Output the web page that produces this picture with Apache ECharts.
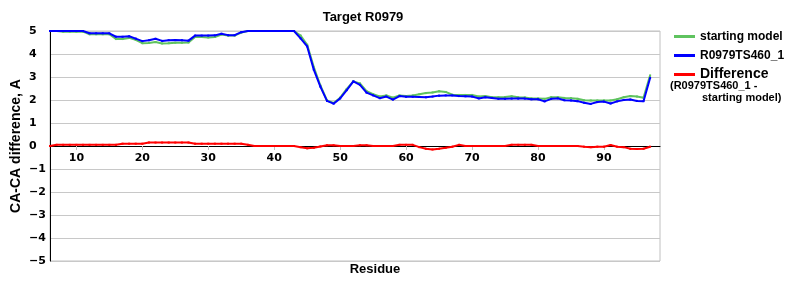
<!DOCTYPE html>
<html>
<head>
<meta charset="utf-8">
<script src="https://cdn.jsdelivr.net/npm/echarts@6/dist/echarts.min.js"></script>
<style>
html,body{margin:0;padding:0;background:#fff;}
#chart{width:800px;height:300px;}
</style>
</head>
<body>
<div id="chart"></div>
<script>
// Residue numbers 6..97
const residues = [6,7,8,9,10,11,12,13,14,15,16,17,18,19,20,21,22,23,24,25,26,27,28,29,30,31,32,33,34,35,36,37,38,39,40,41,42,43,44,45,46,47,48,49,50,51,52,53,54,55,56,57,58,59,60,61,62,63,64,65,66,67,68,69,70,71,72,73,74,75,76,77,78,79,80,81,82,83,84,85,86,87,88,89,90,91,92,93,94,95,96,97];

const startingModel = [
  5.0,5.0,4.97,4.97,4.97,4.97,4.86,4.86,4.86,4.86,
  4.65,4.65,4.7,4.62,4.47,4.48,4.52,4.46,4.47,4.49,
  4.49,4.5,4.74,4.74,4.72,4.74,4.85,4.8,4.8,4.93,
  5.0,5.0,5.0,5.0,5.0,5.0,5.0,5.0,4.8,4.4,
  3.43,2.63,1.98,1.87,2.1,2.48,2.81,2.72,2.38,2.25,
  2.15,2.2,2.1,2.2,2.17,2.2,2.25,2.3,2.33,2.38,
  2.35,2.23,2.22,2.22,2.22,2.15,2.17,2.12,2.12,2.13,
  2.16,2.12,2.11,2.07,2.07,2.05,2.12,2.12,2.09,2.08,
  2.05,1.99,1.98,1.98,1.98,1.98,2.03,2.12,2.17,2.15,
  2.1,3.07
];

const modelTS460 = [
  5.0,5.0,5.0,5.0,5.0,5.0,4.9,4.9,4.9,4.9,
  4.75,4.75,4.77,4.67,4.56,4.6,4.66,4.57,4.6,4.61,
  4.6,4.58,4.8,4.8,4.8,4.81,4.88,4.82,4.82,4.95,
  5.0,5.0,5.0,5.0,5.0,5.0,5.0,5.0,4.68,4.33,
  3.32,2.58,1.96,1.84,2.07,2.43,2.81,2.66,2.32,2.2,
  2.08,2.15,2.02,2.17,2.14,2.14,2.13,2.12,2.15,2.19,
  2.2,2.2,2.17,2.16,2.15,2.07,2.12,2.09,2.05,2.05,
  2.06,2.06,2.06,2.03,2.03,1.94,2.05,2.07,1.99,1.98,
  1.95,1.88,1.83,1.91,1.93,1.85,1.94,2.0,2.02,1.96,
  1.95,2.96
];

const difference = [
  0.0,0.05,0.05,0.05,0.05,0.05,0.05,0.05,0.05,0.05,
  0.05,0.1,0.1,0.1,0.1,0.15,0.15,0.15,0.15,0.15,
  0.15,0.15,0.1,0.1,0.1,0.1,0.1,0.1,0.1,0.1,
  0.05,0.0,0.0,0.0,0.0,0.0,0.0,0.0,-0.05,-0.1,
  -0.08,-0.02,0.03,0.03,0.0,0.0,0.0,0.03,0.03,0.0,
  0.0,0.0,0.0,0.05,0.05,0.05,-0.05,-0.12,-0.15,-0.12,
  -0.08,-0.03,0.05,0.0,0.0,0.0,0.0,0.0,0.0,0.0,
  0.05,0.05,0.05,0.05,0.0,0.0,0.0,0.0,0.0,0.0,
  0.0,-0.03,-0.05,-0.03,-0.03,0.04,-0.03,-0.05,-0.12,-0.13,
  -0.12,-0.03
];

const xTickValues = [10,20,30,40,50,60,70,80,90];
const titleText = 'Target R0979';
const yAxisTitle = 'CA-CA difference, A';
const xAxisTitle = 'Residue';
const seriesNames = ['starting model','R0979TS460_1','Difference'];
const diffNote = ['(R0979TS460_1 -','starting model)'];

const pair = arr => residues.map((r,i)=>[r, arr[i]]);

const chart = echarts.init(document.getElementById('chart'), null, {renderer:'canvas'});
const boldFont = 'Liberation Sans, Arial, sans-serif';
chart.setOption({
  animation: false,
  backgroundColor: '#fff',
  title: {
    text: titleText, left: 358, top: 6, textAlign: 'center',
    textStyle: {fontFamily: boldFont, fontWeight: 'bold', fontSize: 13, color: '#000'}
  },
  grid: {left: 50, right: 140, top: 31, bottom: 39, show: true, borderColor: '#c0c0c0', borderWidth: 1,
    outerBoundsMode: 'none', containLabel: false},
  legend: {
    orient: 'vertical', left: 669, top: 24, itemWidth: 21, itemHeight: 3, itemGap: 4, icon: 'rect',
    textStyle: {fontFamily: boldFont, fontWeight: 'bold', fontSize: 12, color: '#000', lineHeight: 15,
      rich: {big: {fontFamily: boldFont, fontWeight: 'bold', fontSize: 14, color: '#000'}}},
    formatter: name => name === seriesNames[2] ? '{big|' + name + '}' : name,
    data: seriesNames
  },
  xAxis: {
    type: 'value', min: 6, max: 98.5, offset: -115,
    axisLine: {onZero: false, lineStyle: {color: '#000', width: 1}},
    axisTick: {show: true, customValues: xTickValues, length: 4, lineStyle: {color: '#c0c0c0'}},
    axisLabel: {customValues: xTickValues, fontFamily: 'DejaVu Sans', fontWeight: 'bold', fontSize: 11, color: '#000', margin: 7},
    splitLine: {show: false}
  },
  yAxis: {
    type: 'value', min: -5, max: 5, interval: 1,
    name: yAxisTitle, nameLocation: 'middle', nameGap: 27, nameMoveOverlap: false,
    nameTextStyle: {fontFamily: boldFont, fontWeight: 'bold', fontSize: 14, color: '#000'},
    axisLine: {show: true, lineStyle: {color: '#000', width: 1}},
    axisTick: {show: false},
    axisLabel: {fontFamily: 'DejaVu Sans', fontWeight: 'bold', fontSize: 11, color: '#000', margin: 21, align: 'left',
      formatter: v => String(v).replace('-', '\u2212')},
    splitLine: {show: true, lineStyle: {color: '#c8c8c8', width: 1}}
  },
  graphic: [
    {type: 'text', x: 375, y: 263, style: {text: xAxisTitle, font: 'bold 13px Liberation Sans', fill: '#000', textAlign: 'center'}},
    {type: 'text', x: 670, y: 80, style: {text: diffNote[0], font: 'bold 11px Liberation Sans', fill: '#000', textAlign: 'left'}},
    {type: 'text', x: 702, y: 92, style: {text: diffNote[1], font: 'bold 11px Liberation Sans', fill: '#000', textAlign: 'left'}}
  ],
  series: [
    {name: seriesNames[0], type: 'line', data: pair(startingModel), color: '#5fc35f',
     lineStyle: {width: 2}, symbol: 'rect', symbolSize: 2, itemStyle: {color: '#5fc35f'}, z: 2},
    {name: seriesNames[1], type: 'line', data: pair(modelTS460), color: '#0000ff',
     lineStyle: {width: 2}, symbol: 'rect', symbolSize: 2, itemStyle: {color: '#0000ff'}, z: 3},
    {name: seriesNames[2], type: 'line', data: pair(difference), color: '#ff0000',
     lineStyle: {width: 2}, symbol: 'rect', symbolSize: 2, itemStyle: {color: '#ff0000'}, z: 4}
  ]
});
</script>
</body>
</html>
